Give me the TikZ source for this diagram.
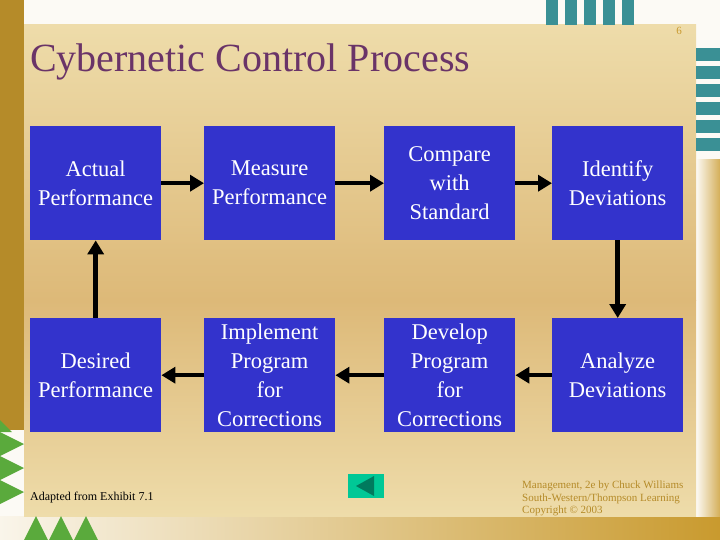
\documentclass[tikz,border=0pt]{standalone}
\usepackage{fontspec}
\setmainfont{Liberation Serif}
\begin{document}
\begin{tikzpicture}[x=1pt,y=-1pt,
  box/.style={fill=boxblue,draw=none,minimum width=131pt,minimum height=114pt,align=center,text=white,font=\fontsize{22.5}{29}\selectfont,anchor=north west,inner sep=0pt},
  arr/.style={line width=4.5pt,-{Triangle[length=14pt,width=16pt]}},
  bar/.style={fill=tealbar,draw=none}]
\definecolor{boxblue}{HTML}{3333CC}
\definecolor{tealbar}{HTML}{3A9095}
\definecolor{gold}{HTML}{C99A2E}
\definecolor{paneltop}{HTML}{EEDCAA}
\definecolor{panelmid}{HTML}{DDB978}
\definecolor{greenT}{HTML}{5AAA3C}
\definecolor{titlec}{HTML}{6A3468}
\definecolor{navc}{HTML}{00C896}
\definecolor{navt}{HTML}{007A5E}
\usetikzlibrary{arrows.meta}
\useasboundingbox (0,0) rectangle (720,540);
% outer background
\fill[white!95!gold] (0,0) rectangle (720,540);
\shade[left color=white!90!gold,right color=gold] (0,516) rectangle (720,540);
\fill[gold!90!black] (0,0) rectangle (24,430);
\shade[left color=white!95!gold, right color=gold!80] (696,160) rectangle (720,516);
% panel
\shade[top color=paneltop,bottom color=panelmid] (24,25) rectangle (696,300);
\shade[top color=panelmid,bottom color=paneltop] (24,300) rectangle (696,516);
% teal bars
\foreach \i in {0,...,4} \fill[bar] (546+\i*19,0) rectangle (558+\i*19,25);
\foreach \i in {0,...,5} \fill[bar] (696,48+\i*18) rectangle (720,61+\i*18);
% green triangles
\foreach \i in {0,1,2} \fill[greenT] (0,432+\i*24) -- (24,444+\i*24) -- (0,456+\i*24) -- cycle;
\foreach \i in {0,1,2} \fill[greenT] (24+\i*25,540) -- (36+\i*25,516) -- (48+\i*25,540) -- cycle;
\fill[greenT] (0,420) -- (12,432) -- (0,432) -- cycle;
% title
\node[anchor=west,text=titlec,font=\fontsize{40}{44}\selectfont,inner sep=0pt] (title) at (30,62) {Cybernetic Control Process};
\node[text=gold,font=\fontsize{11}{12}\selectfont,inner sep=0pt] (pg) at (679,31) {6};
% boxes
\node[box] (ap) at (30,126) {Actual\\Performance};
\node[box] (mp) at (204,126) {Measure\\Performance};
\node[box] (cs) at (384,126) {Compare\\with\\Standard};
\node[box] (id) at (552,126) {Identify\\Deviations};
\node[box] (dp) at (30,318) {Desired\\Performance};
\node[box] (ip) at (204,318) {Implement\\Program\\for\\Corrections};
\node[box] (dv) at (384,318) {Develop\\Program\\for\\Corrections};
\node[box] (ad) at (552,318) {Analyze\\Deviations};
% arrows
\draw[arr] (ap.east) -- (mp.west);
\draw[arr] (mp.east) -- (cs.west);
\draw[arr] (cs.east) -- (id.west);
\draw[arr] (id.south) -- (ad.north);
\draw[arr] (ad.west) -- (dv.east);
\draw[arr] (dv.west) -- (ip.east);
\draw[arr] (ip.west) -- (dp.east);
\draw[arr] (dp.north) -- (ap.south);
% footer texts
\node[anchor=west,font=\fontsize{12}{13}\selectfont,inner sep=0pt] (src) at (30,498) {Adapted from Exhibit 7.1};
\node[anchor=north west,align=left,text=gold!90!black,font=\fontsize{11}{12.5}\selectfont,inner sep=0pt] (cr) at (522,481) {Management, 2e by Chuck Williams\\South-Western/Thompson Learning\\Copyright \textcopyright\ 2003};
% nav button
\node[fill=navc,minimum width=36pt,minimum height=24pt,inner sep=0pt] (nav) at (366,486) {};
\fill[navt] ([xshift=-10pt]nav.center) -- ([xshift=8pt,yshift=10pt]nav.center) -- ([xshift=8pt,yshift=-10pt]nav.center) -- cycle;
\end{tikzpicture}
\end{document}
